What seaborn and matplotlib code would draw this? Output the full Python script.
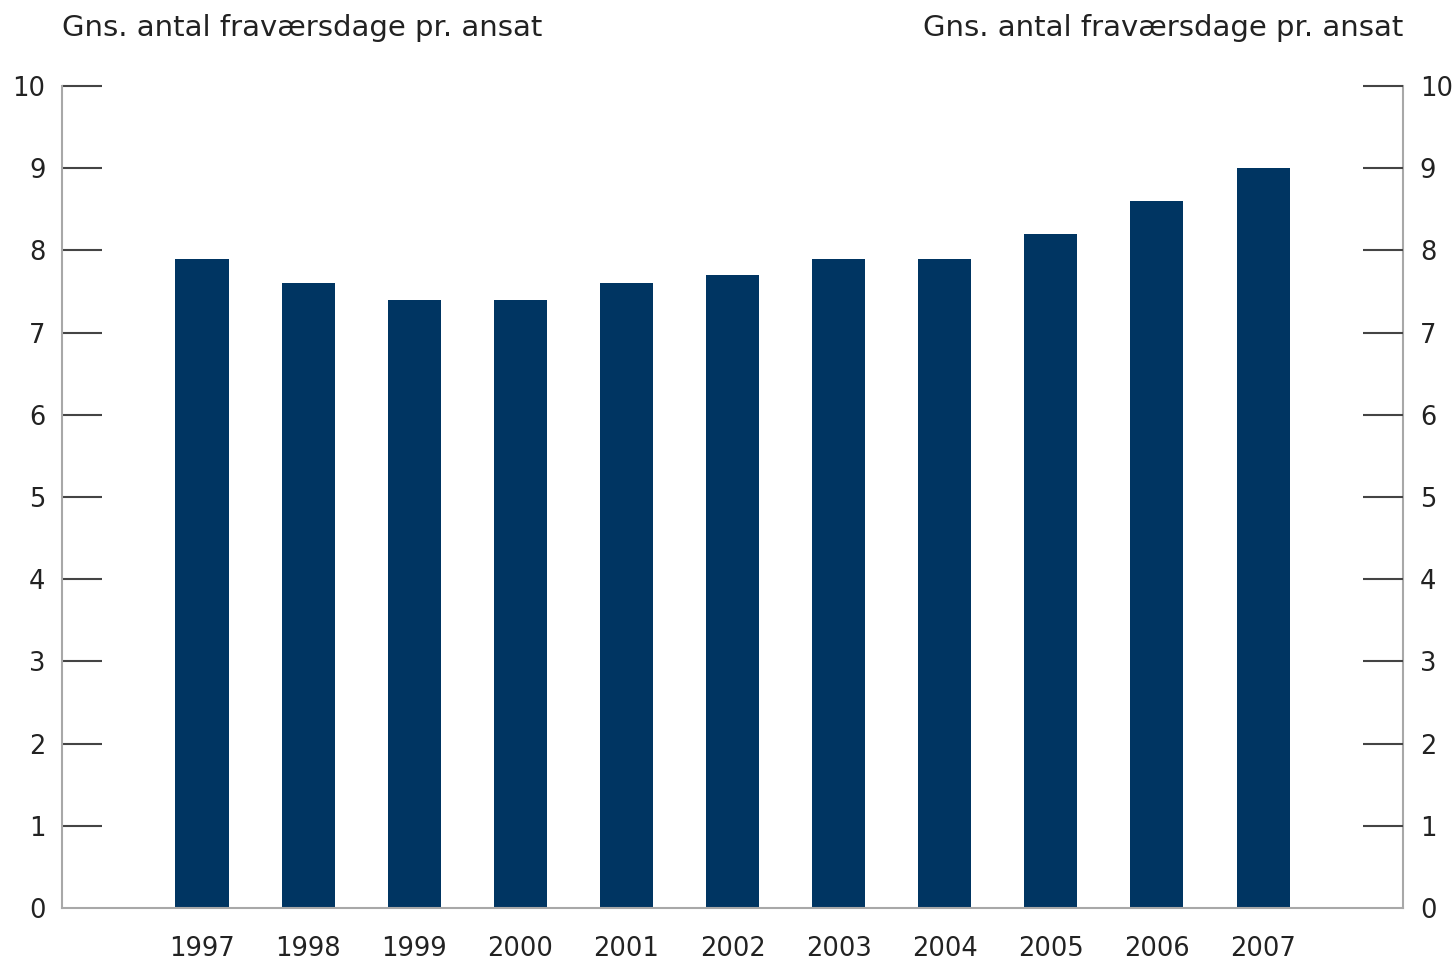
import matplotlib
matplotlib.use("Agg")
import matplotlib.pyplot as plt
import seaborn as sns
import pandas as pd

# Data
years = ["1997", "1998", "1999", "2000", "2001", "2002", "2003", "2004", "2005", "2006", "2007"]
days = [7.9, 7.6, 7.4, 7.4, 7.6, 7.7, 7.9, 7.9, 8.2, 8.6, 9.0]
yticks = list(range(0, 11))
ylabel = "Gns. antal fraværsdage pr. ansat"

df = pd.DataFrame({"year": years, "days": days})

sns.set_style("white")
plt.rcParams['font.family'] = ['DejaVu Sans']

fig = plt.figure(figsize=(14.54, 9.59), dpi=100)
ax = fig.add_axes([0.0426, 0.0532, 0.9224, 0.8571])

sns.barplot(data=df, x="year", y="days", color="#003562", width=0.5,
            saturation=1, ax=ax, edgecolor="none")

ax.set_xlim(-1.32, len(years) - 1 + 1.32)
ax.set_ylim(0, 10)
ax.set_xlabel("")
ax.set_ylabel("")
ax.set_yticks(yticks)

for s in ["left", "right", "bottom"]:
    ax.spines[s].set_visible(True)
    ax.spines[s].set_color("#a8a8a8")
    ax.spines[s].set_linewidth(1.5)
ax.spines["top"].set_visible(False)

ax.tick_params(axis="y", direction="in", length=29, width=1.5, color="#444444",
               labelsize=18.5, pad=12, labelcolor="#222222")
ax.tick_params(axis="x", length=0, labelsize=18.5, pad=20, labelcolor="#222222")

ax2 = ax.twinx()
ax2.set_ylim(0, 10)
ax2.set_yticks(yticks)
for s in ["left", "right", "bottom", "top"]:
    ax2.spines[s].set_visible(False)
ax2.tick_params(axis="y", direction="in", length=29, width=1.5, color="#444444",
                labelsize=18.5, pad=12, labelcolor="#222222")
# the zero tick sits on the bottom spine, keep it hidden like on the left
ax2.yaxis.get_major_ticks()[0].tick2line.set_visible(False)
ax.yaxis.get_major_ticks()[0].tick1line.set_visible(False)

fig.text(0.0426, 0.971, ylabel, ha="left", va="center", fontsize=21, color="#222222")
fig.text(0.965, 0.971, ylabel, ha="right", va="center", fontsize=21, color="#222222")

fig.savefig("out.png", dpi=100)
